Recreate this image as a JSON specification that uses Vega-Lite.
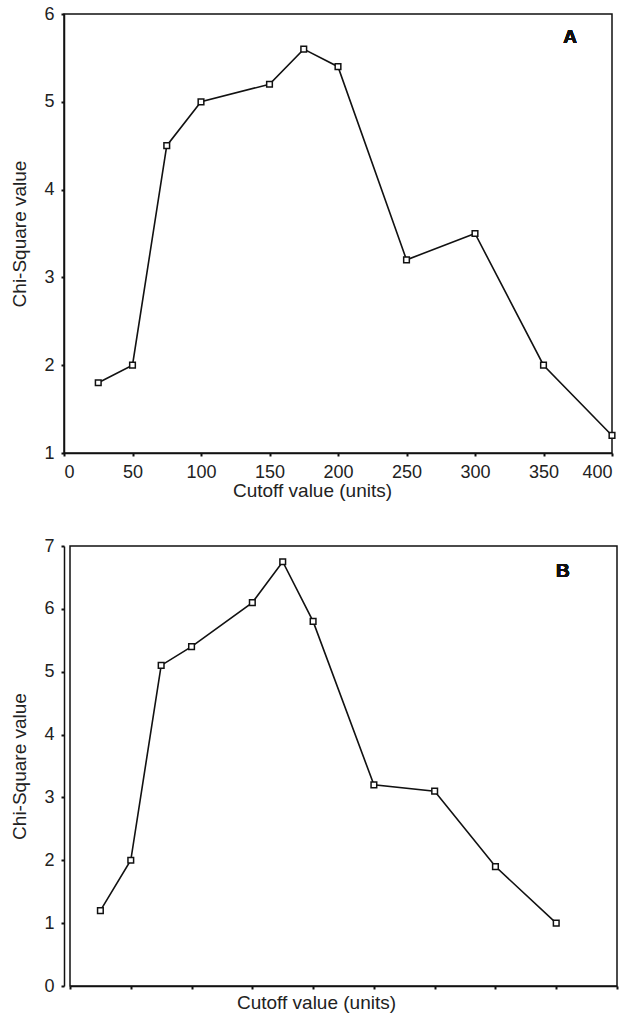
{
  "$schema": "https://vega.github.io/schema/vega-lite/v6.json",
  "padding": {"left": 9, "top": 4, "right": 5, "bottom": 5},
  "background": "white",
  "columns": 2,
  "align": "none",
  "spacing": {"row": 35, "column": 0},
  "config": {
    "font": "Liberation Sans",
    "view": {"stroke": "#111", "strokeWidth": 1.5},
    "axis": {
      "grid": false,
      "domainColor": "#111",
      "domainWidth": 1.5,
      "tickColor": "#111",
      "tickWidth": 2,
      "tickSize": 3,
      "labelFont": "Liberation Sans",
      "labelFontSize": 18,
      "labelColor": "#222",
      "labelPadding": 7,
      "titleFont": "Liberation Sans",
      "titleFontSize": 19,
      "titleFontWeight": "normal",
      "titleColor": "#222"
    }
  },
  "concat": [
    {
      "width": 1,
      "height": 1,
      "data": {"values": []},
      "mark": {"type": "point", "opacity": 0},
      "view": {"stroke": null}
    },
    {
      "width": 548,
      "height": 439,
      "data": {
        "values": [
          {"cutoff": 25, "chi": 1.8},
          {"cutoff": 50, "chi": 2.0},
          {"cutoff": 75, "chi": 4.5},
          {"cutoff": 100, "chi": 5.0},
          {"cutoff": 150, "chi": 5.2},
          {"cutoff": 175, "chi": 5.6},
          {"cutoff": 200, "chi": 5.4},
          {"cutoff": 250, "chi": 3.2},
          {"cutoff": 300, "chi": 3.5},
          {"cutoff": 350, "chi": 2.0},
          {"cutoff": 400, "chi": 1.2}
        ]
      },
      "encoding": {
        "x": {
          "field": "cutoff",
          "type": "quantitative",
          "scale": {"domain": [0, 400], "nice": false},
          "axis": {
            "values": [0, 50, 100, 150, 200, 250, 300, 350, 400],
            "title": "Cutoff value (units)",
            "titleX": 248,
            "titlePadding": 0
          }
        },
        "y": {
          "field": "chi",
          "type": "quantitative",
          "scale": {"domain": [1, 6], "nice": false, "zero": false},
          "axis": {
            "values": [1, 2, 3, 4, 5, 6],
            "title": "Chi-Square value",
            "titlePadding": 14
          }
        }
      },
      "layer": [
        {"mark": {"type": "line", "color": "#111", "strokeWidth": 1.6}},
        {"mark": {"type": "point", "shape": "square", "filled": true, "fill": "white", "stroke": "#111", "strokeWidth": 1.5, "size": 32, "opacity": 1}},
        {
          "mark": {"type": "text", "text": "A", "fontSize": 19, "fontWeight": "bold", "color": "#111", "font": "Liberation Sans"},
          "encoding": {
            "x": {"datum": 369.5, "type": "quantitative"},
            "y": {"datum": 5.74, "type": "quantitative"}
          }
        }
      ]
    },
    {
      "width": 1,
      "height": 1,
      "data": {"values": []},
      "mark": {"type": "point", "opacity": 0},
      "view": {"stroke": null}
    },
    {
      "width": 547,
      "height": 440,
      "data": {
        "values": [
          {"cutoff": 25, "chi": 1.2},
          {"cutoff": 50, "chi": 2.0},
          {"cutoff": 75, "chi": 5.1},
          {"cutoff": 100, "chi": 5.4},
          {"cutoff": 150, "chi": 6.1},
          {"cutoff": 175, "chi": 6.75},
          {"cutoff": 200, "chi": 5.8},
          {"cutoff": 250, "chi": 3.2},
          {"cutoff": 300, "chi": 3.1},
          {"cutoff": 350, "chi": 1.9},
          {"cutoff": 400, "chi": 1.0}
        ]
      },
      "encoding": {
        "x": {
          "field": "cutoff",
          "type": "quantitative",
          "scale": {"domain": [0, 450], "nice": false},
          "axis": {
            "values": [0, 50, 100, 150, 200, 250, 300, 350, 400, 450],
            "labels": false,
            "title": "Cutoff value (units)",
            "titleX": 246,
            "titlePadding": 3
          }
        },
        "y": {
          "field": "chi",
          "type": "quantitative",
          "scale": {"domain": [0, 7], "nice": false, "zero": false},
          "axis": {
            "values": [0, 1, 2, 3, 4, 5, 6, 7],
            "title": "Chi-Square value",
            "titlePadding": 14,
            "offset": 6
          }
        }
      },
      "layer": [
        {"mark": {"type": "line", "color": "#111", "strokeWidth": 1.6}},
        {"mark": {"type": "point", "shape": "square", "filled": true, "fill": "white", "stroke": "#111", "strokeWidth": 1.5, "size": 32, "opacity": 1}},
        {
          "mark": {"type": "text", "text": "B", "fontSize": 19, "fontWeight": "bold", "color": "#111", "font": "Liberation Sans"},
          "encoding": {
            "x": {"datum": 405.5, "type": "quantitative"},
            "y": {"datum": 6.6, "type": "quantitative"}
          }
        }
      ]
    }
  ]
}
